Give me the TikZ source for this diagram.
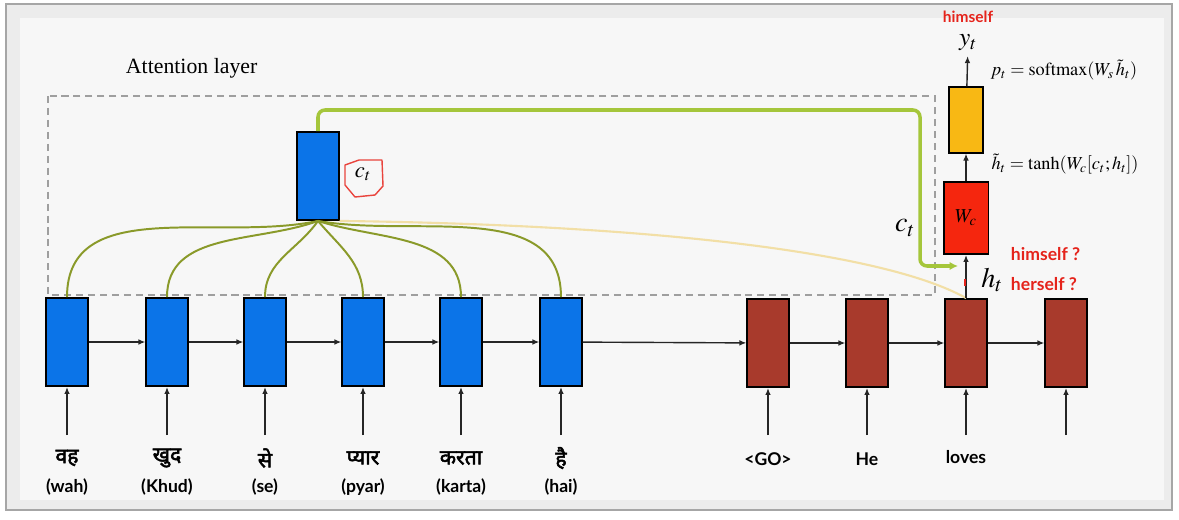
\documentclass[tikz,border=0pt]{standalone}
\usepackage{mathptmx}
\usepackage{fontspec}
\setmainfont{Liberation Serif}
\newfontfamily\devafont[Script=Devanagari, FakeBold=2.5]{Noto Sans}
\newfontfamily\labfont{Lato}
\usetikzlibrary{arrows.meta}

\definecolor{encblue}{HTML}{0B74E8}
\definecolor{decbrown}{HTML}{A83A2C}
\definecolor{wcred}{HTML}{F5260E}
\definecolor{smyellow}{HTML}{F8B814}
\definecolor{attgreen}{HTML}{8A9A2A}
\definecolor{ctgreen}{HTML}{A5C63B}
\definecolor{paleline}{HTML}{F2DFA6}
\definecolor{panel}{HTML}{F7F7F7}
\definecolor{redtxt}{HTML}{E5231B}

\tikzset{
  cell/.style={draw=black, line width=1.3pt, minimum width=1.03cm, minimum height=2.2cm, inner sep=0pt},
  enc/.style={cell, fill=encblue},
  dec/.style={cell, fill=decbrown},
  arr/.style={-{Latex[length=5pt,width=4pt]}, line width=1pt, black!85},
  att/.style={attgreen, line width=1.4pt},
  ctline/.style={ctgreen, line width=2.5pt, rounded corners=5pt, -{Latex[length=6pt,width=6pt]}},
  hindi/.style={font=\devafont\fontsize{15}{17}\selectfont},
  word/.style={font=\labfont\bfseries\fontsize{12.5}{14}\selectfont},
  redword/.style={font=\labfont\bfseries\fontsize{12.5}{14}\selectfont, text=redtxt}
}

\begin{document}
\begin{tikzpicture}[x=0.025cm, y=-0.025cm]
        \useasboundingbox (0,0) rectangle (1179,520);
        % frame
        \fill[white] (0,0) rectangle (1179,520);
        \draw[gray!70, fill=gray!15, line width=1pt] (6,4) rectangle (1172,510);
        \fill[panel] (20,18) rectangle (1164,500);

        \node[anchor=west, font=\fontsize{15.5}{17}\selectfont] (attlab) at (121,68) {Attention layer};
        \draw[gray!75, line width=1.5pt, dash pattern=on 5pt off 3.5pt] (48,96) rectangle (935,295);

        % encoder
        \foreach \i/\x/\hw/\tr in {1/67/वह/wah, 2/167/खुद/Khud, 3/265/से/se, 4/363/प्यार/pyar, 5/461/करता/karta, 6/561/है/hai} {
            \node[enc] (e\i) at (\x,342) {};
            \coordinate (ein\i) at (\x,435);
            \draw[arr] (ein\i) -- (e\i);
            \node[hindi] (hw\i) at (\x,458) {\hw};
            \node[word] (tr\i) at (\x,487) {(\tr)};
        }

        % decoder
        \foreach \i/\x in {1/768, 2/867, 3/966, 4/1066} {
            \node[dec] (d\i) at (\x,343) {};
            \coordinate (din\i) at (\x,435);
            \draw[arr] (din\i) -- (d\i);
        }
        \node[word] (go) at (768,459) {<GO>};
        \node[word] (he) at (867,459) {He};
        \node[word] (loves) at (966,457) {loves};

        \foreach \a/\b in {e1/e2, e2/e3, e3/e4, e4/e5, e5/e6, e6/d1, d1/d2, d2/d3, d3/d4}
            \draw[arr] (\a) -- (\b);

        % context vector
        \node[enc] (ctx) at (318,176) {};
        \node[font=\fontsize{16}{16}\selectfont] (ctlab) at (363,174) {$c_t$};
        \draw[redtxt!85, line width=1pt, line join=round]
            ([shift={(-18,-9)}]ctlab.center) -- ([shift={(-4,-14)}]ctlab.center)
            -- ([shift={(19,-14)}]ctlab.center) -- ([shift={(20,12)}]ctlab.center)
            -- ([shift={(12,21)}]ctlab.center) -- ([shift={(-8,23)}]ctlab.center)
            -- ([shift={(-18,11)}]ctlab.center) -- cycle;

        \draw[att] (ctx.south) to[out=192,in=90] (e1.north);
        \draw[att] (ctx.south) to[out=200,in=90] (e2.north);
        \draw[att] (ctx.south) to[out=235,in=90] (e3.north);
        \draw[att] (ctx.south) to[out=-50,in=90] (e4.north);
        \draw[att] (ctx.south) to[out=-18,in=90] (e5.north);
        \draw[att] (ctx.south) to[out=-10,in=90] (e6.north);
        \draw[paleline, line width=1.5pt] (ctx.south east) .. controls +(320,4) and +(-80,-45) .. (d3.north);

        \coordinate (ctturn) at (920,110);
        \coordinate (ctin) at (958,266);
        \draw[ctline] (ctx.north) |- (ctturn) |- (ctin);
        \node[font=\fontsize{20}{20}\selectfont] (ctside) at (905,228) {$c_t$};

        % output stack
        \node[cell, fill=wcred, minimum width=1.12cm, minimum height=1.8cm] (wc) at (966,218) {\fontsize{14}{14}\selectfont$W_c$};
        \node[cell, fill=smyellow, minimum width=0.83cm, minimum height=1.63cm] (sm) at (966,120) {};
        \node[font=\fontsize{18}{18}\selectfont] (yt) at (968,43) {$y_t$};
        \node[redword, font=\labfont\bfseries\fontsize{11}{12}\selectfont] (himtop) at (968,17) {himself};

        \draw[arr] (d3) -- (wc);
        \draw[arr] (wc) -- (sm);
        \draw[arr] (sm) -- (yt);
        \draw[redtxt, line width=1.2pt] (965,279) -- (965,286);

        \node[anchor=west, font=\fontsize{13}{13}\selectfont, inner sep=1pt] (pform) at (989,70) {$p_t = \mathrm{softmax}(W_s\,\tilde{h}_t)$};
        \node[anchor=west, font=\fontsize{13}{13}\selectfont, inner sep=1pt] (hform) at (990,164) {$\tilde{h}_t = \tanh(W_c[c_t;h_t])$};
        \node[font=\fontsize{20}{20}\selectfont] (htlab) at (992,280) {$h_t$};
        \node[redword, anchor=west] (him) at (1006,254) {himself ?};
        \node[redword, anchor=west] (her) at (1006,284) {herself ?};
    \end{tikzpicture}
\end{document}
